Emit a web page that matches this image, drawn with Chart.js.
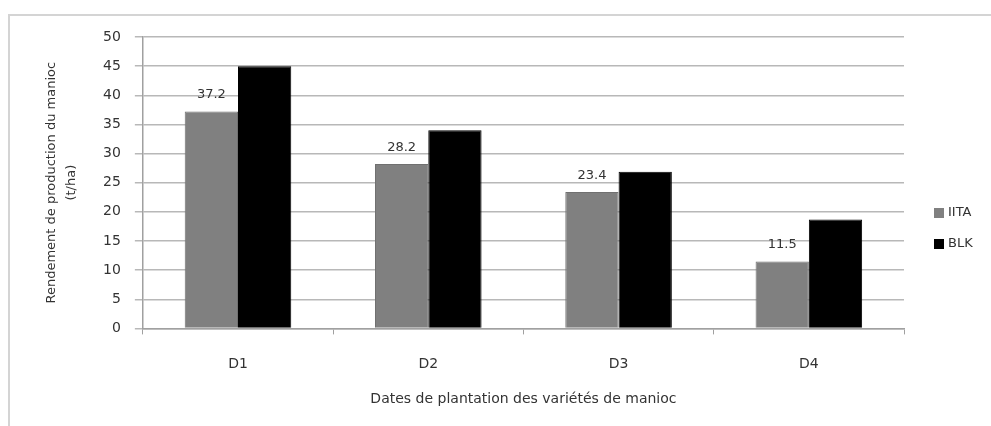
<!DOCTYPE html>
<html>
<head>
<meta charset="utf-8">
<script src="https://cdn.jsdelivr.net/npm/chart.js@4"></script>
<style>
  body { margin: 0; background: #fff; overflow: hidden; }
  #frame { position: absolute; left: 8px; top: 14px; width: 1000px; height: 430px; border: 2px solid #d4d4d4; }
  #wrap { position: absolute; left: 0; top: 0; width: 991px; height: 426px; }
</style>
</head>
<body>
<div id="frame"></div>
<div id="wrap"><canvas id="chart1"></canvas></div>
<script>
// données
const categories = ["D1", "D2", "D3", "D4"];
const iita = [37.2, 28.2, 23.4, 11.5];
const blk = [45, 34, 26.9, 18.7];
const yTicks = [0, 50, 5]; // min, max, pas

const font = "'DejaVu Sans', sans-serif";

// étiquettes au-dessus des barres IITA + légende à droite
const labelPlugin = {
  id: "iitaLabels",
  afterDatasetsDraw(chart) {
    const ctx = chart.ctx;
    const meta = chart.getDatasetMeta(0);
    ctx.save();
    ctx.font = "13px " + font;
    ctx.fillStyle = "#333";
    ctx.textAlign = "center";
    ctx.textBaseline = "bottom";
    meta.data.forEach(function (bar, i) {
      ctx.fillText(iita[i].toFixed(1), bar.x, bar.y - 10);
    });

    // légende
    const area = chart.chartArea;
    ctx.textAlign = "left";
    ctx.textBaseline = "middle";
    chart.data.datasets.forEach(function (ds, i) {
      const x = area.right + 30;
      const y = area.top + 176 + i * 31;
      ctx.fillStyle = ds.backgroundColor;
      ctx.fillRect(x, y - 5, 10, 10);
      ctx.fillStyle = "#333";
      ctx.fillText(ds.label, x + 14, y);
    });
    ctx.restore();
  },
};

new Chart(document.getElementById("chart1"), {
  type: "bar",
  data: {
    labels: categories,
    datasets: [
      { label: "IITA", data: iita, backgroundColor: "#808080", borderColor: "#707070", borderWidth: 1 },
      { label: "BLK", data: blk, backgroundColor: "#000000", borderColor: "#000000", borderWidth: 1 },
    ],
  },
  options: {
    responsive: true,
    maintainAspectRatio: false,
    animation: false,
    categoryPercentage: 0.56,
    barPercentage: 1,
    layout: { padding: { left: 38, top: 37, right: 87, bottom: 14 } },
    scales: {
      x: {
        grid: { display: true, drawOnChartArea: false, offset: true, color: "#a0a0a0", tickLength: 6 },
        border: { color: "#a0a0a0", width: 1.5 },
        ticks: { color: "#333", font: { family: font, size: 14 }, padding: 22 },
        title: {
          display: true,
          text: "Dates de plantation des variétés de manioc",
          color: "#333",
          font: { family: font, size: 14 },
          padding: { top: -4 },
        },
      },
      y: {
        min: yTicks[0],
        max: yTicks[1],
        ticks: { stepSize: yTicks[2], color: "#333", font: { family: font, size: 14 }, padding: 14 },
        grid: { color: "#b8b8b8", lineWidth: 1.5, tickLength: 8 },
        border: { color: "#a0a0a0", width: 1.5 },
        title: {
          display: true,
          text: ["Rendement de production du manioc", "(t/ha)"],
          color: "#333",
          font: { family: font, size: 13, lineHeight: 1.54 },
          padding: { top: 4, bottom: 7 },
        },
      },
    },
    plugins: {
      legend: { display: false },
      tooltip: { enabled: false },
    },
  },
  plugins: [labelPlugin],
});
</script>
</body>
</html>
